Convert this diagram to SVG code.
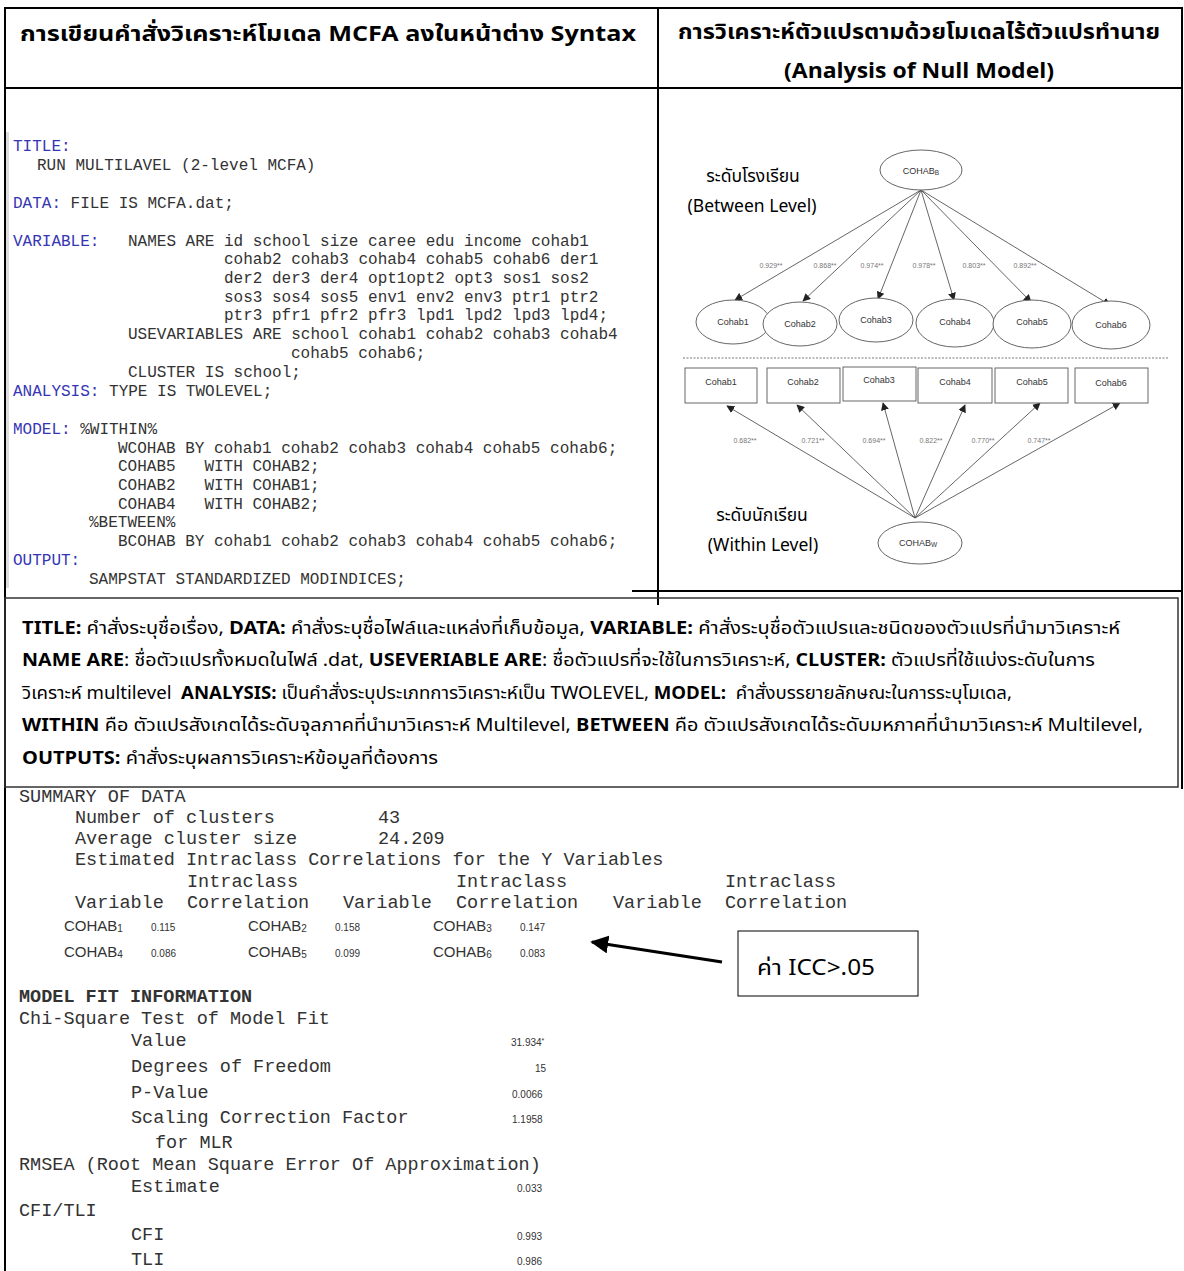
<svg xmlns="http://www.w3.org/2000/svg" width="1184" height="1271" viewBox="0 0 1184 1271">
<defs>
<style>
.th{font-family:"Leelawadee UI","Tahoma","Noto Sans Thai","Noto Sans",sans-serif;fill:#000}
.hd{font-size:22px;font-weight:bold}
.code{font-family:"Liberation Mono","Courier New",monospace;font-size:16px;fill:#333;white-space:pre}
.kw{fill:#3535b5}
.out{font-family:"Liberation Mono","Courier New",monospace;font-size:18.5px;fill:#333;white-space:pre}
.val{font-family:"Liberation Sans",Arial,sans-serif;font-size:10px;fill:#333}
.cv{font-family:"Liberation Sans Narrow","Liberation Sans",Arial,sans-serif;font-size:15px;fill:#333}
.node{fill:#fff;stroke:#666;stroke-width:1}
.nl{font-family:"Liberation Sans",Arial,sans-serif;font-size:9px;fill:#333;text-anchor:middle}
.coef{font-family:"Liberation Sans",Arial,sans-serif;font-size:7px;fill:#777;text-anchor:middle}
.edge{stroke:#555;stroke-width:0.9;fill:none;marker-end:url(#ah)}
.bd{stroke:#000;stroke-width:2;fill:none}
.lv{font-size:17.5px}
.tb{font-size:18px}
.b{font-weight:bold}
</style>
<marker id="ah" viewBox="0 0 10 10" refX="9" refY="5" markerWidth="8" markerHeight="8" markerUnits="userSpaceOnUse" orient="auto">
<path d="M0,0 L10,5 L0,10 z" fill="#222"/>
</marker>
<marker id="ahBig" viewBox="0 0 10 10" refX="9" refY="5" markerWidth="6" markerHeight="6" orient="auto">
<path d="M0,0 L10,5 L0,10 z" fill="#000"/>
</marker>
</defs>
<rect x="0" y="0" width="1184" height="1271" fill="#fff"/>

<g id="table-borders">
<line class="bd" x1="4" y1="8" x2="1183" y2="8"/>
<line class="bd" x1="5" y1="7" x2="5" y2="1271"/>
<line class="bd" x1="4" y1="88" x2="1183" y2="88"/>
<line class="bd" x1="658" y1="7" x2="658" y2="605"/>
<line class="bd" x1="1182" y1="7" x2="1182" y2="789"/>
<line class="bd" x1="632" y1="591" x2="1182" y2="591"/>
</g>

<g id="headers">
<text class="th hd" x="20" y="41" textLength="616" lengthAdjust="spacingAndGlyphs">การเขียนคำสั่งวิเคราะห์โมเดล MCFA ลงในหน้าต่าง Syntax</text>
<text class="th hd" x="678" y="39" textLength="482" lengthAdjust="spacingAndGlyphs">การวิเคราะห์ตัวแปรตามด้วยโมเดลไร้ตัวแปรทำนาย</text>
<text class="th hd" x="784" y="78" textLength="270" lengthAdjust="spacingAndGlyphs">(Analysis of Null Model)</text>
</g>

<g id="syntax">
<rect x="6" y="132" width="3" height="456" fill="#ddd"/>
<text class="code kw" x="13" y="151">TITLE:</text>
<text class="code" x="37" y="170">RUN MULTILAVEL (2-level MCFA)</text>
<text class="code" x="13" y="208"><tspan class="kw">DATA:</tspan> FILE IS MCFA.dat;</text>
<text class="code kw" x="13" y="246">VARIABLE:</text>
<text class="code" x="128" y="246">NAMES ARE id school size caree edu income cohab1</text>
<text class="code" x="224" y="264">cohab2 cohab3 cohab4 cohab5 cohab6 der1</text>
<text class="code" x="224" y="283">der2 der3 der4 opt1opt2 opt3 sos1 sos2</text>
<text class="code" x="224" y="302">sos3 sos4 sos5 env1 env2 env3 ptr1 ptr2</text>
<text class="code" x="224" y="320">ptr3 pfr1 pfr2 pfr3 lpd1 lpd2 lpd3 lpd4;</text>
<text class="code" x="128" y="339">USEVARIABLES ARE school cohab1 cohab2 cohab3 cohab4</text>
<text class="code" x="291" y="358">cohab5 cohab6;</text>
<text class="code" x="128" y="377">CLUSTER IS school;</text>
<text class="code" x="13" y="396"><tspan class="kw">ANALYSIS:</tspan> TYPE IS TWOLEVEL;</text>
<text class="code" x="13" y="434"><tspan class="kw">MODEL:</tspan> %WITHIN%</text>
<text class="code" x="118" y="453">WCOHAB BY cohab1 cohab2 cohab3 cohab4 cohab5 cohab6;</text>
<text class="code" x="118" y="471">COHAB5   WITH COHAB2;</text>
<text class="code" x="118" y="490">COHAB2   WITH COHAB1;</text>
<text class="code" x="118" y="509">COHAB4   WITH COHAB2;</text>
<text class="code" x="89" y="527">%BETWEEN%</text>
<text class="code" x="118" y="546">BCOHAB BY cohab1 cohab2 cohab3 cohab4 cohab5 cohab6;</text>
<text class="code kw" x="13" y="565">OUTPUT:</text>
<text class="code" x="89" y="584">SAMPSTAT STANDARDIZED MODINDICES;</text>
</g>

<g id="level-labels">
<text class="th lv" x="753" y="182" text-anchor="middle">ระดับโรงเรียน</text>
<text class="th lv" x="752" y="212" text-anchor="middle">(Between Level)</text>
<text class="th lv" x="762" y="521" text-anchor="middle">ระดับนักเรียน</text>
<text class="th lv" x="763" y="551" text-anchor="middle">(Within Level)</text>
</g>

<line id="level-divider" x1="683" y1="358" x2="1168" y2="358" stroke="#777" stroke-width="1" stroke-dasharray="2,1.5"/>

<g id="connectors">
<line class="edge" x1="921" y1="190" x2="735" y2="300"/>
<line class="edge" x1="921" y1="190" x2="803" y2="301"/>
<line class="edge" x1="921" y1="190" x2="878" y2="299"/>
<line class="edge" x1="921" y1="190" x2="954" y2="300"/>
<line class="edge" x1="921" y1="190" x2="1031" y2="302"/>
<line class="edge" x1="921" y1="190" x2="1110" y2="305"/>
<line class="edge" x1="915" y1="518" x2="727" y2="406"/>
<line class="edge" x1="915" y1="518" x2="797" y2="405"/>
<line class="edge" x1="915" y1="518" x2="883" y2="403"/>
<line class="edge" x1="915" y1="518" x2="965" y2="405"/>
<line class="edge" x1="915" y1="518" x2="1040" y2="403"/>
<line class="edge" x1="915" y1="518" x2="1120" y2="403"/>
</g>

<g id="coefficients">
<text class="coef" x="771" y="268">0.929**</text>
<text class="coef" x="825" y="268">0.868**</text>
<text class="coef" x="872" y="268">0.974**</text>
<text class="coef" x="924" y="268">0.978**</text>
<text class="coef" x="974" y="268">0.803**</text>
<text class="coef" x="1025" y="268">0.892**</text>
<text class="coef" x="745" y="443">0.682**</text>
<text class="coef" x="813" y="443">0.721**</text>
<text class="coef" x="874" y="443">0.694**</text>
<text class="coef" x="931" y="443">0.822**</text>
<text class="coef" x="983" y="443">0.770**</text>
<text class="coef" x="1039" y="443">0.747**</text>
</g>

<g id="COHAB_B"><ellipse class="node" cx="921" cy="170" rx="41" ry="20"/><text class="nl" x="921" y="174">COHAB<tspan font-size="6.5" dy="1">B</tspan></text></g>
<g id="b_cohab1"><ellipse class="node" cx="733" cy="322" rx="37" ry="22"/><text class="nl" x="733" y="325">Cohab1</text></g>
<g id="b_cohab2"><ellipse class="node" cx="800" cy="324" rx="37" ry="22"/><text class="nl" x="800" y="327">Cohab2</text></g>
<g id="b_cohab3"><ellipse class="node" cx="876" cy="320" rx="37" ry="22"/><text class="nl" x="876" y="323">Cohab3</text></g>
<g id="b_cohab4"><ellipse class="node" cx="955" cy="323" rx="39" ry="24"/><text class="nl" x="955" y="325">Cohab4</text></g>
<g id="b_cohab5"><ellipse class="node" cx="1032" cy="324" rx="39" ry="24"/><text class="nl" x="1032" y="325">Cohab5</text></g>
<g id="b_cohab6"><ellipse class="node" cx="1111" cy="325" rx="39" ry="24"/><text class="nl" x="1111" y="328">Cohab6</text></g>

<g id="w_cohab1"><rect class="node" x="685" y="368" width="72" height="35" stroke="#8090b0"/><text class="nl" x="721" y="385">Cohab1</text></g>
<g id="w_cohab2"><rect class="node" x="767" y="368" width="73" height="35"/><text class="nl" x="803" y="385">Cohab2</text></g>
<g id="w_cohab3"><rect class="node" x="843" y="367" width="73" height="34"/><text class="nl" x="879" y="383">Cohab3</text></g>
<g id="w_cohab4"><rect class="node" x="918" y="368" width="74" height="35"/><text class="nl" x="955" y="385">Cohab4</text></g>
<g id="w_cohab5"><rect class="node" x="995" y="368" width="73" height="35"/><text class="nl" x="1032" y="385">Cohab5</text></g>
<g id="w_cohab6"><rect class="node" x="1075" y="368" width="73" height="35"/><text class="nl" x="1111" y="386">Cohab6</text></g>
<g id="COHAB_W"><ellipse class="node" cx="920" cy="543" rx="42" ry="21"/><text class="nl" x="918" y="546">COHAB<tspan font-size="6.5" dy="1">W</tspan></text></g>

<g id="explanation">
<rect x="5" y="598" width="1173" height="189" fill="none" stroke="#333" stroke-width="1.5"/>
<text class="th tb" x="22" y="634" textLength="1098" lengthAdjust="spacingAndGlyphs"><tspan class="b">TITLE:</tspan> คำสั่งระบุชื่อเรื่อง, <tspan class="b">DATA:</tspan> คำสั่งระบุชื่อไฟล์และแหล่งที่เก็บข้อมูล, <tspan class="b">VARIABLE:</tspan> คำสั่งระบุชื่อตัวแปรและชนิดของตัวแปรที่นำมาวิเคราะห์</text>
<text class="th tb" x="22" y="666" textLength="1073" lengthAdjust="spacingAndGlyphs"><tspan class="b">NAME ARE</tspan>: ชื่อตัวแปรทั้งหมดในไฟล์ .dat, <tspan class="b">USEVERIABLE ARE</tspan>: ชื่อตัวแปรที่จะใช้ในการวิเคราะห์, <tspan class="b">CLUSTER:</tspan> ตัวแปรที่ใช้แบ่งระดับในการ</text>
<text class="th tb" x="22" y="699" textLength="990" lengthAdjust="spacingAndGlyphs" xml:space="preserve">วิเคราะห์ multilevel  <tspan class="b">ANALYSIS:</tspan> เป็นคำสั่งระบุประเภทการวิเคราะห์เป็น TWOLEVEL, <tspan class="b">MODEL:</tspan>  คำสั่งบรรยายลักษณะในการระบุโมเดล,</text>
<text class="th tb" x="22" y="731" textLength="1121" lengthAdjust="spacingAndGlyphs"><tspan class="b">WITHIN</tspan> คือ ตัวแปรสังเกตได้ระดับจุลภาคที่นำมาวิเคราะห์ Multilevel, <tspan class="b">BETWEEN</tspan> คือ ตัวแปรสังเกตได้ระดับมหภาคที่นำมาวิเคราะห์ Multilevel,</text>
<text class="th tb" x="22" y="764" textLength="416" lengthAdjust="spacingAndGlyphs"><tspan class="b">OUTPUTS:</tspan> คำสั่งระบุผลการวิเคราะห์ข้อมูลที่ต้องการ</text>
</g>

<g id="summary">
<text class="out" x="19" y="802">SUMMARY OF DATA</text>
<text class="out" x="75" y="823">Number of clusters</text><text class="out" x="378" y="823">43</text>
<text class="out" x="75" y="844">Average cluster size</text><text class="out" x="378" y="844">24.209</text>
<text class="out" x="75" y="865">Estimated Intraclass Correlations for the Y Variables</text>
<text class="out" x="187" y="887">Intraclass</text><text class="out" x="456" y="887">Intraclass</text><text class="out" x="725" y="887">Intraclass</text>
<text class="out" x="75" y="908">Variable</text><text class="out" x="187" y="908">Correlation</text>
<text class="out" x="343" y="908">Variable</text><text class="out" x="456" y="908">Correlation</text>
<text class="out" x="613" y="908">Variable</text><text class="out" x="725" y="908">Correlation</text>
<text class="cv" x="64" y="931">COHAB<tspan font-size="10" dy="1">1</tspan></text><text class="val" x="151" y="931">0.115</text>
<text class="cv" x="248" y="931">COHAB<tspan font-size="10" dy="1">2</tspan></text><text class="val" x="335" y="931">0.158</text>
<text class="cv" x="433" y="931">COHAB<tspan font-size="10" dy="1">3</tspan></text><text class="val" x="520" y="931">0.147</text>
<text class="cv" x="64" y="957">COHAB<tspan font-size="10" dy="1">4</tspan></text><text class="val" x="151" y="957">0.086</text>
<text class="cv" x="248" y="957">COHAB<tspan font-size="10" dy="1">5</tspan></text><text class="val" x="335" y="957">0.099</text>
<text class="cv" x="433" y="957">COHAB<tspan font-size="10" dy="1">6</tspan></text><text class="val" x="520" y="957">0.083</text>
</g>

<g id="icc-note">
<line x1="722" y1="962" x2="592" y2="942" stroke="#000" stroke-width="3" marker-end="url(#ahBig)"/>
<rect x="738" y="931" width="180" height="65" fill="#fff" stroke="#000" stroke-width="1"/>
<text class="th" x="757" y="975" font-size="22" textLength="118" lengthAdjust="spacingAndGlyphs">ค่า ICC&gt;.05</text>
</g>

<g id="model-fit">
<text class="out" x="19" y="1002" font-weight="bold">MODEL FIT INFORMATION</text>
<text class="out" x="19" y="1024">Chi-Square Test of Model Fit</text>
<text class="out" x="131" y="1046">Value</text><text class="val" x="511" y="1046">31.934<tspan font-size="7" dy="-3">*</tspan></text>
<text class="out" x="131" y="1072">Degrees of Freedom</text><text class="val" x="535" y="1072">15</text>
<text class="out" x="131" y="1098">P-Value</text><text class="val" x="512" y="1098">0.0066</text>
<text class="out" x="131" y="1123">Scaling Correction Factor</text><text class="val" x="512" y="1123">1.1958</text>
<text class="out" x="155" y="1148">for MLR</text>
<text class="out" x="19" y="1170">RMSEA (Root Mean Square Error Of Approximation)</text>
<text class="out" x="131" y="1192">Estimate</text><text class="val" x="517" y="1192">0.033</text>
<text class="out" x="19" y="1216">CFI/TLI</text>
<text class="out" x="131" y="1240">CFI</text><text class="val" x="517" y="1240">0.993</text>
<text class="out" x="131" y="1265">TLI</text><text class="val" x="517" y="1265">0.986</text>
</g>
</svg>
